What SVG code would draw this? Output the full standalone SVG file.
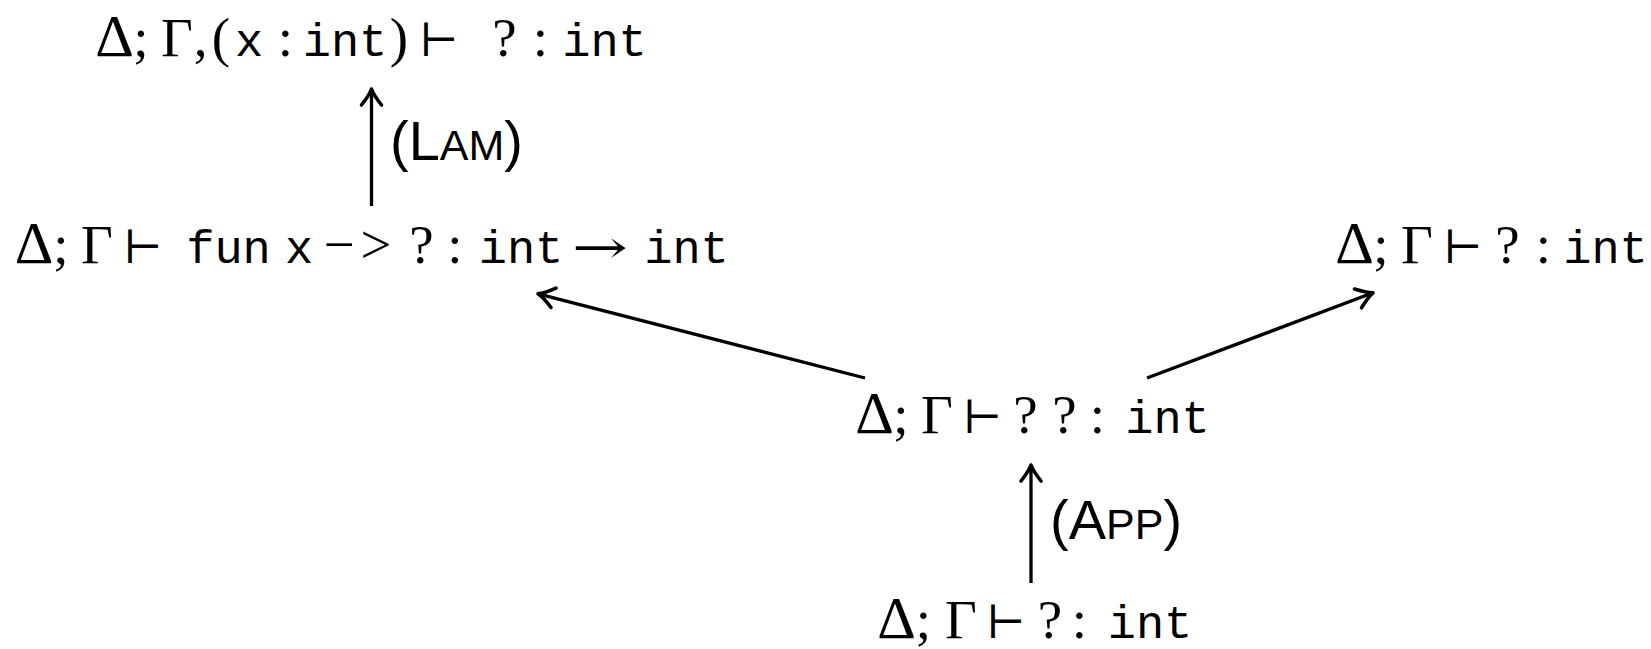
<svg xmlns="http://www.w3.org/2000/svg" width="1651" height="649" viewBox="0 0 1651 649">
<style>
.n{text-anchor:middle;fill:#000}
.m{font-family:"Liberation Serif","DejaVu Serif",serif;font-size:55px}
.D{font-size:60px}
.tt{font-family:"Liberation Mono","DejaVu Sans Mono",monospace;font-size:47px}
.rel{font-family:"DejaVu Serif","DejaVu Sans",serif;font-size:46px}
.ar{font-family:"DejaVu Serif","DejaVu Sans",serif;font-size:46px}
.lbl{font-family:"Liberation Sans",Arial,sans-serif;font-size:56px;text-anchor:start;fill:#000}
.sc{font-size:43px}
.c{stroke:#000;stroke-width:3.3;fill:none}
</style>
<defs>
<marker id="ah" markerUnits="userSpaceOnUse" viewBox="-18 -12 22 24" markerWidth="22" markerHeight="24" refX="0" refY="0" orient="auto" overflow="visible">
<path d="M -16,-10 C -9,-4.5 -3.5,-1.2 0,0 C -3.5,1.2 -9,4.5 -16,10" fill="none" stroke="#000" stroke-width="3.6" stroke-linecap="round" stroke-linejoin="round"/>
</marker>
</defs>
<g id="connectors">
<line class="c" x1="371.5" y1="206" x2="371.5" y2="89" marker-end="url(#ah)"/>
<line class="c" x1="1031" y1="583" x2="1031" y2="465" marker-end="url(#ah)"/>
<line class="c" x1="865" y1="378" x2="538" y2="293.8" marker-end="url(#ah)"/>
<line class="c" x1="1147" y1="378" x2="1373" y2="292.8" marker-end="url(#ah)"/>
<text id="lbl-lam" class="lbl" x="390" y="160">(L<tspan class="sc">AM</tspan>)</text>
<text id="lbl-app" class="lbl" x="1050" y="539">(A<tspan class="sc">PP</tspan>)</text>
</g>
<g id="node1">
<text class="n" y="56"><tspan class="m D" x="114.5">Δ</tspan><tspan class="m" x="141">;</tspan><tspan class="m" x="177">Γ</tspan><tspan class="m" x="200.5">,</tspan><tspan class="m" x="221">(</tspan><tspan class="tt" x="249">x</tspan><tspan class="m" x="285.5">:</tspan><tspan class="tt" x="345">int</tspan><tspan class="m" x="399">)</tspan><tspan class="rel" x="439">⊢</tspan><tspan class="m" x="504.5">?</tspan><tspan class="m" x="540.5">:</tspan><tspan class="tt" x="604.5">int</tspan></text>
</g>
<g id="node2">
<text class="n" y="263"><tspan class="m D" x="34">Δ</tspan><tspan class="m" x="61">;</tspan><tspan class="m" x="97">Γ</tspan><tspan class="rel" x="143">⊢</tspan><tspan class="tt" x="228.5">fun</tspan><tspan class="tt" x="299">x</tspan><tspan class="m" x="339">−</tspan><tspan class="m" x="376">&gt;</tspan><tspan class="m" x="421.5">?</tspan><tspan class="m" x="455">:</tspan><tspan class="tt" x="521">int</tspan><tspan class="tt" x="686.5">int</tspan></text>
<text class="n ar" transform="translate(600,263) scale(1.45,1)">→</text>
</g>
<g id="node3">
<text class="n" y="263"><tspan class="m D" x="1354.5">Δ</tspan><tspan class="m" x="1381">;</tspan><tspan class="m" x="1417">Γ</tspan><tspan class="rel" x="1463">⊢</tspan><tspan class="m" x="1507.5">?</tspan><tspan class="m" x="1543.5">:</tspan><tspan class="tt" x="1605.5">int</tspan></text>
</g>
<g id="node4">
<text class="n" y="433"><tspan class="m D" x="874.5">Δ</tspan><tspan class="m" x="901">;</tspan><tspan class="m" x="937">Γ</tspan><tspan class="rel" x="982.5">⊢</tspan><tspan class="m" x="1025.5">?</tspan><tspan class="m" x="1064.5">?</tspan><tspan class="m" x="1097.5">:</tspan><tspan class="tt" x="1167.5">int</tspan></text>
</g>
<g id="node5">
<text class="n" y="638"><tspan class="m D" x="896.5">Δ</tspan><tspan class="m" x="923.5">;</tspan><tspan class="m" x="961">Γ</tspan><tspan class="rel" x="1006">⊢</tspan><tspan class="m" x="1050">?</tspan><tspan class="m" x="1079.5">:</tspan><tspan class="tt" x="1150">int</tspan></text>
</g>
</svg>
